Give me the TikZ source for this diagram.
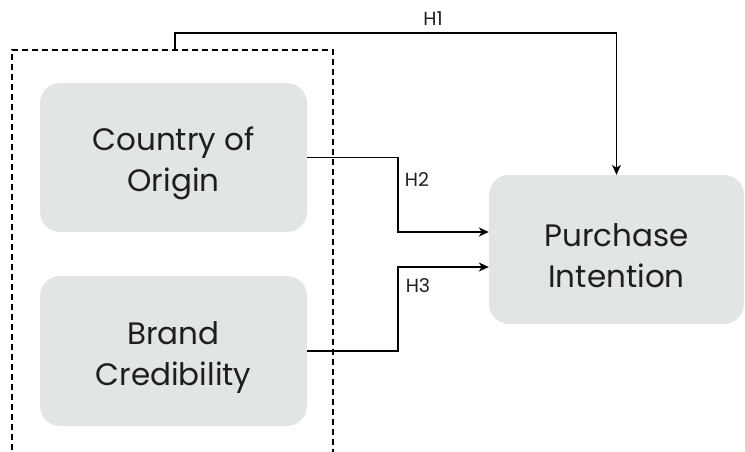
\documentclass[tikz,border=0pt]{standalone}
\usepackage{fontspec}
\usetikzlibrary{arrows.meta}
\setmainfont{Poppins}
\definecolor{boxgray}{RGB}{225,230,228}
\definecolor{txtgray}{RGB}{30,30,30}
\newcommand{\toplift}{\rule{0pt}{36pt}}

\begin{document}
\begin{tikzpicture}[x=1pt,y=-1pt,
    factor/.style={fill=boxgray, draw=none, rounded corners=20pt, align=center,
      text=txtgray, font=\fontsize{31}{41}\selectfont, inner sep=0pt},
    hyp/.style={draw=none, fill=none, font=\fontsize{19}{22}\selectfont, text=txtgray},
    link/.style={-{Stealth[length=10pt,width=9pt,inset=3pt]}, line width=1.2pt}]
    \useasboundingbox (0,0) rectangle (745,452);

    \node (coo)[factor, minimum width=267pt, minimum height=149pt] at (173.5,157.5) {\toplift Country of\\Origin};
    \node (bc)[factor, minimum width=267pt, minimum height=150pt]  at (173.5,351)   {\toplift Brand\\Credibility};
    \node (pi)[factor, minimum width=255pt, minimum height=149pt]  at (616.5,249.5) {\toplift Purchase\\Intention};

    % dashed group round the two factors
    \draw[dash pattern=on 6pt off 4pt, line width=1.2pt] (12,460) -- (12,50) -- (333,50) -- (333,460);
    \coordinate (gtop) at (175,50);

    \draw[link] (gtop) -- ++(0,-17) -| (pi.north);
    \draw[link] (coo.east) -- (398,157.5) |- ([yshift=17.5pt]pi.west);
    \draw[link] (bc.east) -- (398,351) |- ([yshift=-17.5pt]pi.west);

    \node (h1)[hyp] at (433,19)  {H1};
    \node (h2)[hyp] at (417,180) {H2};
    \node (h3)[hyp] at (418,286) {H3};
  \end{tikzpicture}
\end{document}
